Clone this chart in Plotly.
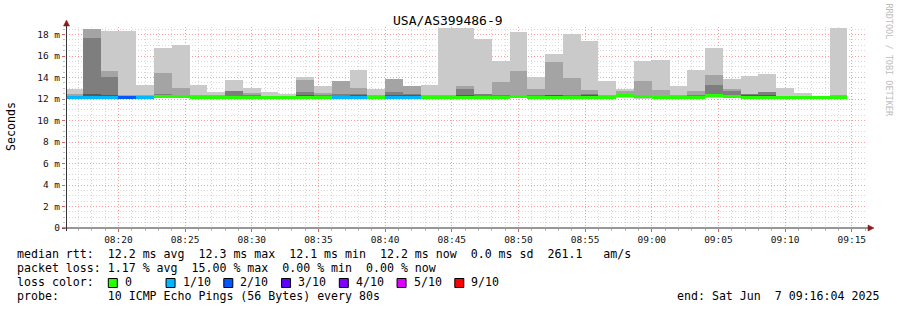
import pandas as pd
import plotly.graph_objects as go

# ---------------- data ----------------
title = "USA/AS399486-9"
step_start = "2025-06-07 08:16:00"
step_seconds = 80
x_start = "2025-06-07 08:16:04"
x_end = "2025-06-07 09:16:04"

# per-step smoke (sorted ping percentiles, ms)
rtt_max = [12.94, 18.47, 18.37, 18.37, 13.34, 16.79, 17.00, 13.34, 12.69, 13.75,
           13.06, 12.63, 12.44, 14.05, 13.19, 13.70, 14.68, 12.90, 13.86, 13.19,
           13.28, 18.60, 18.60, 17.57, 15.52, 18.22, 14.05, 16.17, 18.03, 17.38,
           13.65, 12.97, 15.52, 15.61, 13.19, 14.68, 16.73, 13.84, 14.12, 14.30,
           13.00, 12.53, 12.25, 18.60]
rtt_p9 = [12.45, 18.47, 14.65, 12.35, 12.35, 14.46, 13.06, 12.35, 12.35, 12.78,
          12.56, 12.30, 12.30, 13.75, 12.60, 13.65, 13.03, 12.35, 13.84, 13.19,
          12.35, 12.35, 13.19, 12.50, 13.59, 14.61, 12.90, 15.45, 13.96, 12.81,
          12.41, 12.75, 13.65, 12.81, 12.37, 12.72, 14.21, 12.90, 12.50, 12.63,
          12.30, 12.30, 12.20, 12.35]
rtt_p8 = [12.30, 17.66, 14.03, 12.28, 12.28, 12.47, 12.40, 12.28, 12.28, 12.78,
          12.40, 12.25, 12.25, 12.63, 12.35, 12.45, 12.50, 12.28, 12.66, 12.50,
          12.30, 12.30, 12.90, 12.45, 12.35, 12.40, 12.35, 12.40, 12.35, 12.50,
          12.30, 12.40, 12.35, 12.30, 12.30, 12.35, 13.28, 12.72, 12.50, 12.63,
          12.25, 12.25, 12.20, 12.30]
rtt_p7 = [12.28, 12.50, 12.35, 12.25, 12.25, 12.35, 12.30, 12.25, 12.25, 12.30,
          12.30, 12.20, 12.20, 12.35, 12.30, 12.30, 12.35, 12.25, 12.35, 12.35,
          12.25, 12.25, 12.40, 12.30, 12.30, 12.30, 12.30, 12.35, 12.25, 12.35,
          12.25, 12.38, 12.30, 12.25, 12.25, 12.30, 12.45, 12.40, 12.35, 12.35,
          12.20, 12.20, 12.20, 12.25]
rtt_min = [12.05, 12.08, 12.08, 12.06, 12.08, 12.10, 12.08, 12.03, 12.08, 12.08,
           12.08, 12.03, 12.03, 12.08, 12.08, 12.08, 12.08, 12.08, 12.06, 12.08,
           12.08, 12.08, 12.08, 12.06, 12.08, 12.08, 12.08, 12.08, 12.05, 12.08,
           12.06, 12.10, 12.03, 12.08, 12.08, 12.08, 12.10, 12.10, 12.06, 12.06,
           12.05, 12.08, 12.10, 12.08]
median_rtt = [12.16, 12.16, 12.16, 12.16, 12.16, 12.25, 12.20, 12.15, 12.15, 12.15,
              12.15, 12.10, 12.10, 12.15, 12.15, 12.15, 12.15, 12.17, 12.15, 12.15,
              12.17, 12.17, 12.17, 12.17, 12.17, 12.22, 12.17, 12.17, 12.12, 12.17,
              12.17, 12.33, 12.20, 12.15, 12.15, 12.15, 12.33, 12.27, 12.18, 12.18,
              12.10, 12.15, 12.15, 12.15]
loss = [1, 1, 1, 2, 1, 0, 0, 0, 0, 0,
        0, 0, 0, 0, 0, 1, 1, 0, 1, 1,
        0, 0, 0, 0, 0, 0, 0, 0, 0, 0,
        0, 0, 0, 0, 0, 0, 0, 0, 0, 0,
        0, 0, 0, 0]

loss_levels = [0, 1, 2, 3, 4, 5, 9]
loss_labels = ["0", "1/10", "2/10", "3/10", "4/10", "5/10", "9/10"]
loss_colors = ["#26ff00", "#00b8ff", "#0059ff", "#5e00ff", "#7e00ff", "#dd00ff", "#ff0000"]

y_tick_vals = [0, 2, 4, 6, 8, 10, 12, 14, 16, 18]
y_tick_text = ["0", "2 m", "4 m", "6 m", "8 m", "10 m", "12 m", "14 m", "16 m", "18 m"]

legend_lines = [
    "median rtt:  12.2 ms avg  12.3 ms max  12.1 ms min  12.2 ms now  0.0 ms sd  261.1   am/s",
    "packet loss: 1.17 % avg  15.00 % max  0.00 % min  0.00 % now",
    "loss color:",
    "probe:       10 ICMP Echo Pings (56 Bytes) every 80s",
]
end_text = "end: Sat Jun  7 09:16:04 2025"
watermark = "RRDTOOL / TOBI OETIKER"
y_title = "Seconds"

# ---------------- geometry / style ----------------
W, H = 897, 310
ML, MR, MT, MB = 66, 31, 27, 82
PW, PH = W - ML - MR, H - MT - MB
PX_PER_MS = 10.75
Y_TOP = PH / PX_PER_MS
MONO = "DejaVu Sans Mono"
smoke_colors = ["#cacaca", "#a4a4a4", "#7e7e7e", "#585858"]
LINE_PX = 3


def px(xp):
    return (xp - ML) / PW


def py(yp):
    return (MT + PH - yp) / PH


n = len(rtt_max)
starts = pd.date_range(step_start, periods=n, freq=f"{step_seconds}s")
bar_w = step_seconds * 1000

fig = go.Figure()

tops = [rtt_max, rtt_p9, rtt_p8, rtt_p7]
for i, (top, col) in enumerate(zip(tops, smoke_colors)):
    base = rtt_min if i == 0 else median_rtt
    h = [max(t - b, 0) for t, b in zip(top, base)]
    fig.add_trace(go.Bar(x=starts, y=h, base=base, width=bar_w, offset=0,
                         marker=dict(color=col, line=dict(width=0)),
                         showlegend=False, hoverinfo="skip"))

lw = LINE_PX / PX_PER_MS
cmap = dict(zip(loss_levels, loss_colors))
fig.add_trace(go.Bar(x=starts, y=[lw] * n, base=[m - lw / 2 for m in median_rtt],
                     width=bar_w, offset=0,
                     marker=dict(color=[cmap[l] for l in loss], line=dict(width=0)),
                     showlegend=False, hoverinfo="skip"))

major_grid = "#f4a0a0"
minor_grid = "#d8d8d8"

fig.update_layout(
    width=W, height=H, margin=dict(l=ML, r=MR, t=MT, b=MB),
    paper_bgcolor="white", plot_bgcolor="white",
    barmode="overlay", bargap=0, showlegend=False,
    font=dict(family=MONO, color="#000"),
    xaxis=dict(type="date", range=[x_start, x_end], tickformat="%H:%M",
               tick0="2025-06-07 08:20:00", dtick=300000,
               showgrid=True, gridcolor=major_grid, griddash="1px,2px", gridwidth=1,
               ticks="outside", ticklen=3, tickcolor="#e06060",
               tickfont=dict(family=MONO, size=9.5, color="#111"),
               minor=dict(dtick=60000, tick0="2025-06-07 08:20:00", showgrid=True,
                          gridcolor=minor_grid, griddash="1px,2px",
                          ticks="outside", ticklen=2, tickcolor="#bbbbbb"),
               showline=False, zeroline=False, layer="above traces", fixedrange=True),
    yaxis=dict(range=[0, Y_TOP], tickmode="array", tickvals=y_tick_vals, ticktext=y_tick_text,
               showgrid=True, gridcolor=major_grid, griddash="1px,2px", gridwidth=1,
               ticks="outside", ticklen=3, tickcolor="#e06060",
               tickfont=dict(family=MONO, size=9.5, color="#111"),
               minor=dict(dtick=0.5, tick0=0, showgrid=True, gridcolor=minor_grid,
                          griddash="1px,2px", ticks="outside", ticklen=2, tickcolor="#bbbbbb"),
               showline=False, zeroline=False, layer="above traces", fixedrange=True),
)

shapes = []
axis_col = "#333333"
arrow_col = "#8b1a1a"
# axes lines
shapes.append(dict(type="line", xref="paper", yref="paper", x0=px(62), x1=px(868),
                   y0=py(228), y1=py(228), line=dict(color=axis_col, width=1)))
shapes.append(dict(type="line", xref="paper", yref="paper", x0=px(66.5), x1=px(66.5),
                   y0=py(231), y1=py(25), line=dict(color=axis_col, width=1)))
# arrow heads
shapes.append(dict(type="path", xref="paper", yref="paper",
                   path=f"M {px(868)} {py(225)} L {px(874)} {py(228)} L {px(868)} {py(231)} Z",
                   fillcolor=arrow_col, line=dict(color=arrow_col, width=0.5)))
shapes.append(dict(type="path", xref="paper", yref="paper",
                   path=f"M {px(63.5)} {py(26)} L {px(66.5)} {py(20)} L {px(69.5)} {py(26)} Z",
                   fillcolor=arrow_col, line=dict(color=arrow_col, width=0.5)))

annotations = []
# title
annotations.append(dict(text=title, x=px(448), y=py(20), xref="paper", yref="paper",
                        xanchor="center", yanchor="middle", showarrow=False,
                        font=dict(family=MONO, size=13, color="#000")))
# y title
annotations.append(dict(text=y_title, x=px(11), y=py(126), xref="paper", yref="paper",
                        xanchor="center", yanchor="middle", showarrow=False, textangle=-90,
                        font=dict(family=MONO, size=11.6, color="#000")))
# watermark
annotations.append(dict(text=watermark, x=px(888.5), y=py(60), xref="paper", yref="paper",
                        xanchor="center", yanchor="middle", showarrow=False, textangle=90,
                        font=dict(family=MONO, size=8.5, color="#bdbdbd")))
# legend lines
line_y = [254.3, 268.3, 282.3, 296.3]
for txt, yy in zip(legend_lines, line_y):
    annotations.append(dict(text=txt.replace(" ", "&nbsp;"), x=px(15), y=py(yy), xref="paper", yref="paper",
                            xanchor="left", yanchor="middle", showarrow=False,
                            font=dict(family=MONO, size=11.6, color="#000")))
annotations.append(dict(text=end_text.replace(" ", "&nbsp;"), x=px(881), y=py(296.3), xref="paper",
                        yref="paper", xanchor="right", yanchor="middle", showarrow=False,
                        font=dict(family=MONO, size=11.6, color="#000")))
# loss colour swatches
sw_x0 = 108.3
sw_step = 57.75
for i, (lab, col) in enumerate(zip(loss_labels, loss_colors)):
    x0 = sw_x0 + i * sw_step
    shapes.append(dict(type="rect", xref="paper", yref="paper", x0=px(x0), x1=px(x0 + 9),
                       y0=py(287.5), y1=py(278.5), fillcolor=col,
                       line=dict(color="#000", width=1)))
    annotations.append(dict(text=lab, x=px(x0 + 14.5), y=py(282.3), xref="paper", yref="paper",
                            xanchor="left", yanchor="middle", showarrow=False,
                            font=dict(family=MONO, size=11.6, color="#000")))

fig.update_layout(shapes=shapes, annotations=annotations)
fig.write_html("out.html")
